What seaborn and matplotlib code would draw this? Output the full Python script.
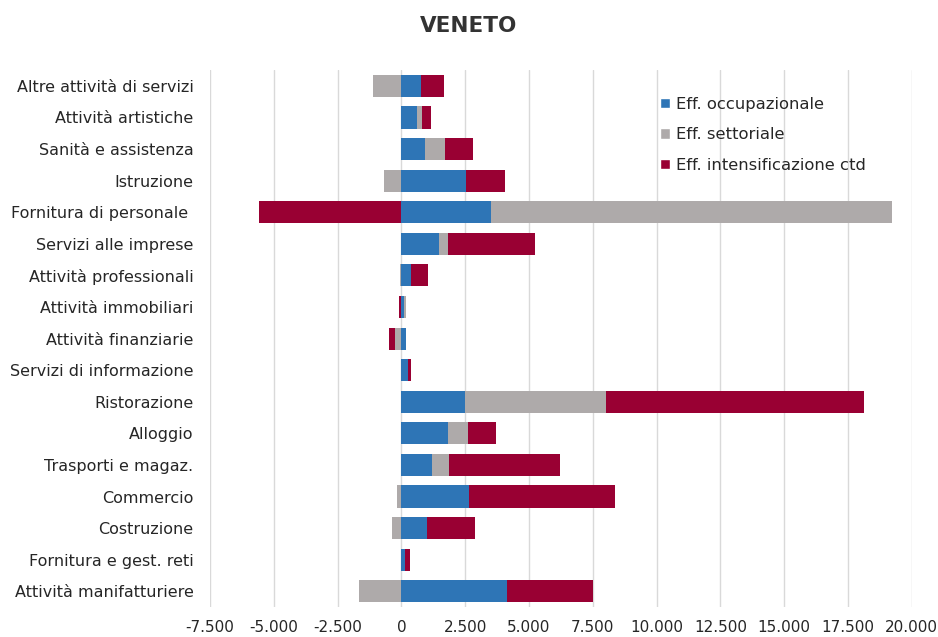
import numpy as np
import pandas as pd
import matplotlib
matplotlib.use('Agg')
import matplotlib.pyplot as plt
import seaborn as sns
from matplotlib.patches import Patch
from matplotlib.ticker import FuncFormatter

settori = ['Altre attività di servizi', 'Attività artistiche', 'Sanità e assistenza',
           'Istruzione', 'Fornitura di personale ', 'Servizi alle imprese',
           'Attività professionali', 'Attività immobiliari', 'Attività finanziarie',
           'Servizi di informazione', 'Ristorazione', 'Alloggio', 'Trasporti e magaz.',
           'Commercio', 'Costruzione', 'Fornitura e gest. reti', 'Attività manifatturiere']

eff_occupazionale = [755, 610, 910, 2515, 3490, 1480, 365, 100, 170,
                     260, 2480, 1815, 1185, 2645, 1000, 130, 4155]
eff_settoriale = [-1105, 210, 795, -675, 15740, 360, -40, 60, -250,
                  0, 5525, 810, 690, -180, -380, 0, -1665]
eff_ctd = [900, 330, 1080, 1560, -5565, 3385, 665, -100, -250,
           130, 10105, 1095, 4355, 5730, 1900, 195, 3360]

serie = ['Eff. occupazionale', 'Eff. settoriale', 'Eff. intensificazione ctd']
colori = ['#2E75B6', '#AEAAAA', '#990033']

sns.set_style('white')
plt.rcParams['font.family'] = ['DejaVu Sans']

df = pd.DataFrame({'Settore': settori, serie[0]: eff_occupazionale,
                   serie[1]: eff_settoriale, serie[2]: eff_ctd})

vals = df[serie].to_numpy(dtype=float)
pos = np.cumsum(np.clip(vals, 0, None), axis=1)
neg = np.cumsum(np.clip(vals, None, 0), axis=1)

fig, ax = plt.subplots(figsize=(9.38, 6.37), dpi=100)
fig.subplots_adjust(left=0.224, right=0.972, top=0.89, bottom=0.047)

# layered drawing: outer cumulative first, inner on top
for i in [2, 1, 0]:
    for cum in (pos, neg):
        sns.barplot(x=cum[:, i], y=df['Settore'], orient='h', color=colori[i],
                    saturation=1, width=0.7, ax=ax, linewidth=0, zorder=3)

ax.set_xlim(-7500, 20000)
ax.set_ylim(len(settori) - 0.5, -0.5)
ax.set_xticks(np.arange(-7500, 20001, 2500))
ax.xaxis.set_major_formatter(FuncFormatter(lambda v, p: f'{int(v):,}'.replace(',', '.')))
ax.grid(axis='x', color='#D9D9D9', linewidth=1, zorder=0)
ax.set_axisbelow(True)
for s in ax.spines.values():
    s.set_visible(False)
ax.tick_params(axis='both', length=0, colors='#262626')
ax.tick_params(axis='y', pad=12, labelsize=11.5)
ax.tick_params(axis='x', pad=9, labelsize=11)
ax.set_xlabel('')
ax.set_ylabel('')

handles = [Patch(facecolor=c, label=l) for c, l in zip(colori, serie)]
ax.legend(handles=handles, loc='upper right', bbox_to_anchor=(0.955, 0.978), frameon=False,
          fontsize=11.8, handlelength=0.6, handleheight=0.6, handletextpad=0.35,
          labelspacing=0.95, labelcolor='#262626')

fig.suptitle('VENETO', fontsize=15.5, fontweight='bold', color='#333333', y=0.975)

fig.savefig('out.png', dpi=100)
